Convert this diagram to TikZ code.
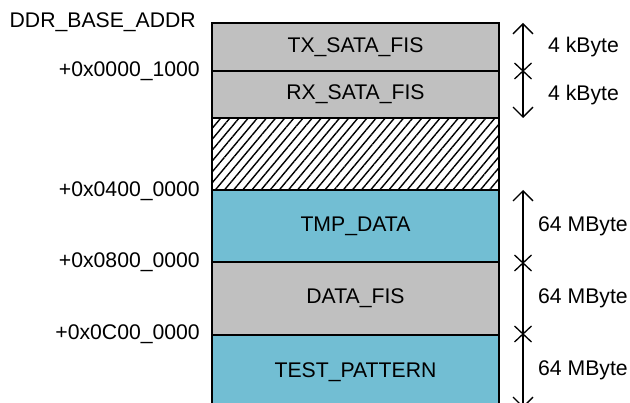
\documentclass[tikz,border=0pt]{standalone}
\usepackage{fontspec}
\setmainfont{Liberation Sans}
\usetikzlibrary{arrows.meta,patterns.meta}
\definecolor{memgray}{RGB}{192,192,192}
\definecolor{memblue}{RGB}{114,190,211}

\begin{document}
\begin{tikzpicture}[x=1pt,y=-1pt,
    font=\fontsize{21.2}{24}\selectfont,
    region/.style={draw, line width=2pt, minimum width=287pt, inner sep=0pt},
    addr/.style={anchor=east, inner sep=0pt},
    size/.style={anchor=west, inner sep=0pt},
    span/.style={line width=1.3pt, {Straight Barb[length=10pt,width=20pt]}-{Straight Barb[length=10pt,width=20pt]}},
    tick/.style={line width=1.3pt}]
    \useasboundingbox (0,0) rectangle (630,403);

    % the memory regions
    \node[region, fill=memgray, minimum height=48pt] (tx) at (355.5,47) {TX\_SATA\_FIS};
    \node[region, fill=memgray, minimum height=47pt] (rx) at (355.5,94.5) {RX\_SATA\_FIS};
    \node[region, pattern={Lines[angle=50,distance=7pt,line width=1.4pt]}, minimum height=72pt] (gap) at (355.5,154) {};
    \node[region, fill=memblue, minimum height=72pt] (tmp) at (355.5,226) {TMP\_DATA};
    \node[region, fill=memgray, minimum height=73pt] (data) at (355.5,298.5) {DATA\_FIS};
    \node[region, fill=memblue, minimum height=75pt] (test) at (355.5,372.5) {TEST\_PATTERN};

    % the addresses
    \node[addr] (a0) at (196,22) {DDR\_BASE\_ADDR};
    \node[addr] (a1) at (200,71) {+0x0000\_1000};
    \node[addr] (a2) at (200,191) {+0x0400\_0000};
    \node[addr] (a3) at (200,262) {+0x0800\_0000};
    \node[addr] (a4) at (200,334) {+0x0C00\_0000};

    % the sizes
    \node[size] (s1) at (548,47) {4 kByte};
    \node[size] (s2) at (548,95) {4 kByte};
    \node[size] (s3) at (538,226) {64 MByte};
    \node[size] (s4) at (538,298) {64 MByte};
    \node[size] (s5) at (538,370) {64 MByte};

    % end points of the size arrows
    \coordinate (t0) at (523,23);
    \coordinate (t1) at (523,71);
    \coordinate (t2) at (523,118);
    \coordinate (b0) at (523,190);
    \coordinate (b1) at (523,263);
    \coordinate (b2) at (523,334);
    \coordinate (b3) at (523,408);

    % draw the arrows
    \draw[span] (t0) -- (t2);
    \draw[span] (b0) -- (b3);

    % the crosses between the sizes
    \draw[tick] (t1) +(-8.5,-8) -- +(8.5,8) +(-8.5,8) -- +(8.5,-8);
    \draw[tick] (b1) +(-8.5,-8) -- +(8.5,8) +(-8.5,8) -- +(8.5,-8);
    \draw[tick] (b2) +(-8.5,-8) -- +(8.5,8) +(-8.5,8) -- +(8.5,-8);
\end{tikzpicture}
\end{document}
